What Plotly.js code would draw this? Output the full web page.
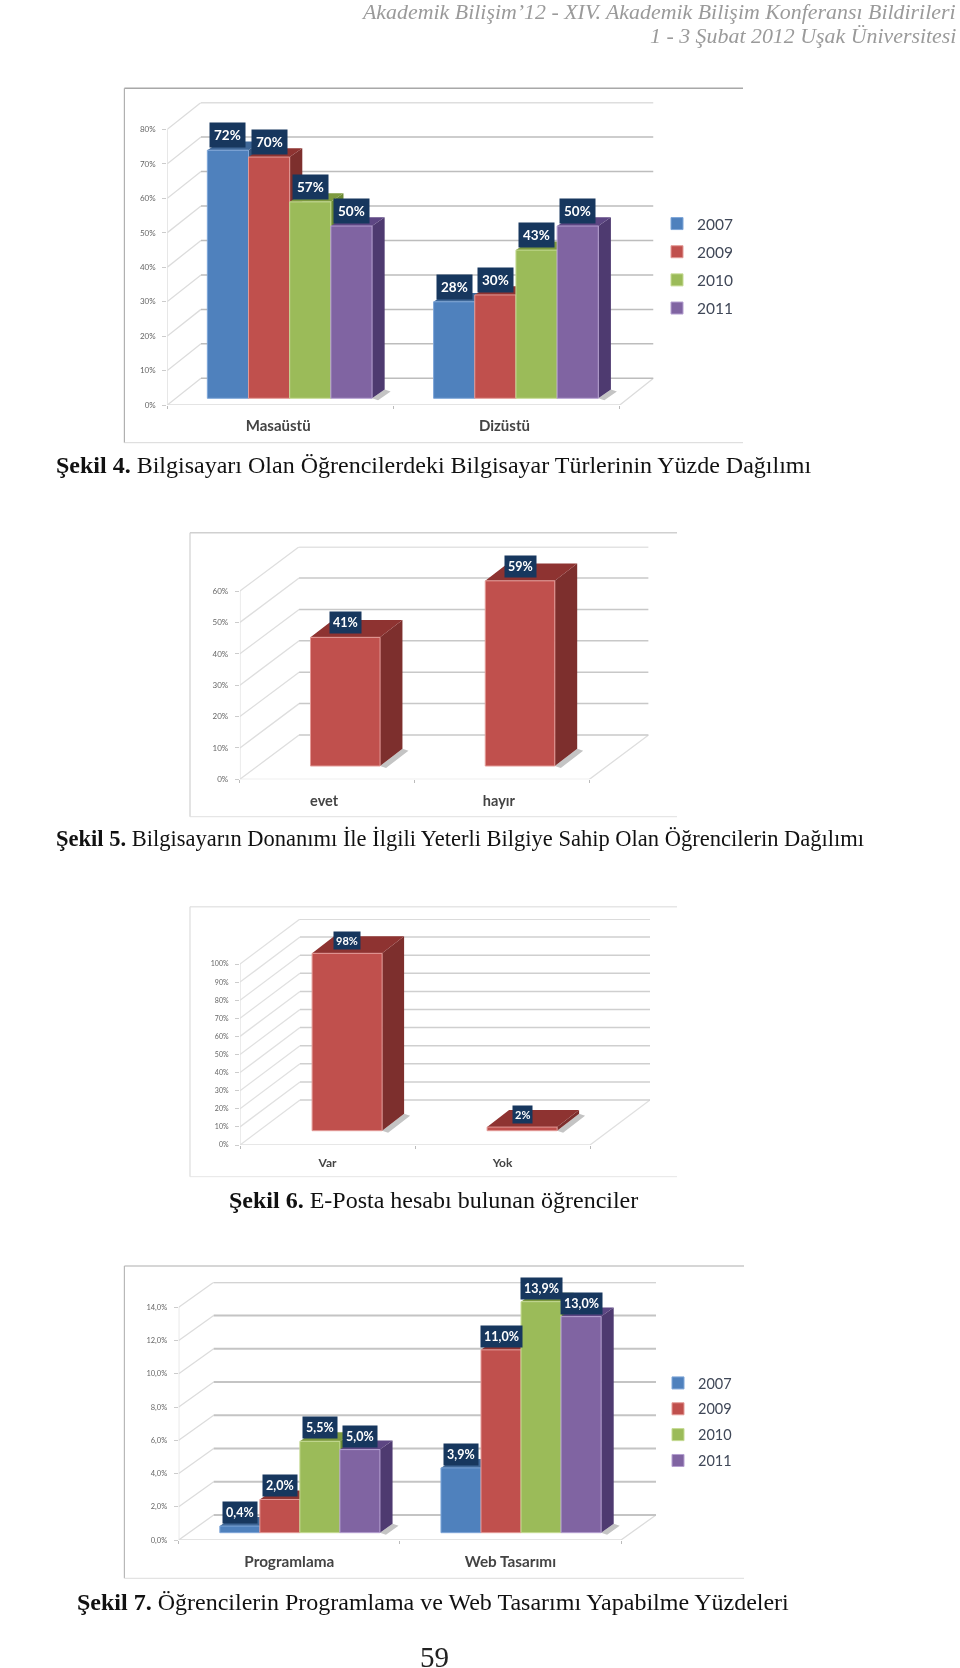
<!DOCTYPE html>
<html><head><meta charset="utf-8">
<script src="https://cdn.plot.ly/plotly-3.0.1.min.js"></script>
<style>html,body{margin:0;padding:0;background:#fff}#g{width:960px;height:1668px;filter:blur(0.45px)}</style>
</head><body><div id="g"></div>
<script>
// ---------- data ----------
const years = ['2007','2009','2010','2011'];

const fig4Categories = ['Masaüstü','Dizüstü'];
const fig4Values2007 = [72,28];
const fig4Values2009 = [70,30];
const fig4Values2010 = [57,43];
const fig4Values2011 = [50,50];
const fig4Ticks = [0,10,20,30,40,50,60,70,80];
const fig4TickLabels = ['0%','10%','20%','30%','40%','50%','60%','70%','80%'];
const fig4Labels = [['72%','28%'],['70%','30%'],['57%','43%'],['50%','50%']];

const fig5Categories = ['evet','hayır'];
const fig5Values = [41,59];
const fig5Ticks = [0,10,20,30,40,50,60];
const fig5TickLabels = ['0%','10%','20%','30%','40%','50%','60%'];
const fig5Labels = ['41%','59%'];

const fig6Categories = ['Var','Yok'];
const fig6Values = [98,2];
const fig6Ticks = [0,10,20,30,40,50,60,70,80,90,100];
const fig6TickLabels = ['0%','10%','20%','30%','40%','50%','60%','70%','80%','90%','100%'];
const fig6Labels = ['98%','2%'];

const fig7Categories = ['Programlama','Web Tasarımı'];
const fig7Values2007 = [0.4,3.9];
const fig7Values2009 = [2.0,11.0];
const fig7Values2010 = [5.5,13.9];
const fig7Values2011 = [5.0,13.0];
const fig7Ticks = [0,2,4,6,8,10,12,14];
const fig7TickLabels = ['0,0%','2,0%','4,0%','6,0%','8,0%','10,0%','12,0%','14,0%'];
const fig7Labels = [['0,4%','3,9%'],['2,0%','11,0%'],['5,5%','13,9%'],['5,0%','13,0%']];

const headerLines = ['Akademik Bilişim’12 - XIV. Akademik Bilişim Konferansı Bildirileri','1 - 3 Şubat 2012 Uşak Üniversitesi'];
const captions = [
 ['<b>Şekil 4.</b> Bilgisayarı Olan Öğrencilerdeki Bilgisayar Türlerinin Yüzde Dağılımı',433.7,465,24],
 ['<b>Şekil 5.</b> Bilgisayarın Donanımı İle İlgili Yeterli Bilgiye Sahip Olan Öğrencilerin Dağılımı',460.2,838.5,22.5],
 ['<b>Şekil 6.</b> E-Posta hesabı bulunan öğrenciler',433.7,1200,24],
 ['<b>Şekil 7.</b> Öğrencilerin Programlama ve Web Tasarımı Yapabilme Yüzdeleri',433,1601.5,24]
];
const pageNumber = '59';

// ---------- styling ----------
const W=960,H=1668;
const COL={b:['#4f81bd','#7ea6d8','#34567f','#3f6797'],
           r:['#c0504d','#e39a97','#7d2f2d','#8e3331'],
           g:['#9bbb59','#c5da93','#6c8a34','#7d9a3f'],
           p:['#8064a2','#b49fd0','#4e3a70','#5d4683']};
const FONT='Lato, "Open Sans", sans-serif', SERIF='"Liberation Serif", serif';
const NAVY='#17375e';
const px=x=>x/W, py=y=>1-y/H;

const charts=[
 {id:4,cats:fig4Categories,ticks:fig4Ticks,tl:fig4TickLabels,
  series:[[fig4Values2007,COL.b,years[0],fig4Labels[0]],[fig4Values2009,COL.r,years[1],fig4Labels[1]],
          [fig4Values2010,COL.g,years[2],fig4Labels[2]],[fig4Values2011,COL.p,years[3],fig4Labels[3]]],
  L:167.3,R:619.8,Y0:405,Ymax:129.3,dx:33.7,dy:26.7,barL:0.177,barW:0.182,base:6.7,sdx:12.6,sdy:8.7,
  frame:[124.4,88.3,743,442.7,'#a8a8a8','#b0b0b0','#d8d8d8'],grid:'#bdbdbd',wall:'#dcdcdc',gw:1.5,
  tfs:8,cfs:15,lfs:13.5,pad:4,lshift:2,legend:'legend',catShift:10,catOff:-0.01},
 {id:5,cats:fig5Categories,ticks:fig5Ticks,tl:fig5TickLabels,
  series:[[fig5Values,COL.r,'',fig5Labels]],
  L:239.9,R:589.4,Y0:779.3,Ymax:591,dx:59.2,dy:44.3,barL:0.404,barW:0.398,base:13.3,sdx:22.4,sdy:17.3,
  frame:[190,532.7,677,816.7,'#d0d0d0','#d0d0d0','#e0e0e0'],grid:'#c8c8c8',wall:'#dedede',gw:1.5,
  tfs:8,cfs:14.5,lfs:12.5,pad:3,lshift:3,catShift:11,catOff:-0.018},
 {id:6,cats:fig6Categories,ticks:fig6Ticks,tl:fig6TickLabels,
  series:[[fig6Values,COL.r,'',fig6Labels]],
  L:240,R:590,Y0:1145,Ymax:964,dx:60,dy:45,barL:0.412,barW:0.4,base:14.3,sdx:22,sdy:17,
  frame:[190,906.7,677,1176.7,'#e6e6e6','#dddddd','#e6e6e6'],grid:'#cfcfcf',wall:'#e0e0e0',gw:1.5,
  tfs:7,cfs:12,lfs:11,pad:2,lshift:3,catShift:9,catOff:0},
 {id:7,cats:fig7Categories,ticks:fig7Ticks,tl:fig7TickLabels,
  series:[[fig7Values2007,COL.b,years[0],fig7Labels[0]],[fig7Values2009,COL.r,years[1],fig7Labels[1]],
          [fig7Values2010,COL.g,years[2],fig7Labels[2]],[fig7Values2011,COL.p,years[3],fig7Labels[3]]],
  L:178.7,R:621,Y0:1540,Ymax:1307.3,dx:35,dy:25,barL:0.186,barW:0.181,base:7.3,sdx:12.6,sdy:9,
  frame:[124.4,1266,744,1578.3,'#c8c8c8','#b8b8b8','#dcdcdc'],grid:'#c4c4c4',wall:'#dcdcdc',gw:2,
  tfs:7.5,cfs:15.3,lfs:12.5,pad:3,lshift:2,legend:'legend2',catShift:11,catOff:0}
];

const traces=[],annotations=[],shapes=[];
const layout={width:W,height:H,margin:{l:0,r:0,t:0,b:0},paper_bgcolor:'#fff',plot_bgcolor:'rgba(0,0,0,0)',
  barmode:'overlay',showlegend:true,hovermode:false,font:{family:FONT}};

charts.forEach((c,k)=>{
  const a=2*k+1,b=2*k+2;                 // base axis pair, overlay axis pair (bars above the side faces)
  const xa=a===1?'x':'x'+a, ya=a===1?'y':'y'+a, xb='x'+b, yb='y'+b;
  const ln=s=>s==='x'?'xaxis':s==='y'?'yaxis':s.replace('x','xaxis').replace('y','yaxis');
  const unit=(c.R-c.L)/c.cats.length;
  const tMax=c.ticks[c.ticks.length-1];
  const scale=(c.Y0-c.Ymax)/tMax;
  const Dx=c.dx/unit,Dy=c.dy/scale,sx=c.sdx/unit,sy=c.sdy/scale,base=c.base/scale;
  const n=c.cats.length;
  const domX=[px(c.L),px(c.R+c.dx)],domY=[py(c.Y0),py(c.Ymax-c.dy)];
  const xr=[0,n+Dx],yr=[0,tMax+Dy];
  layout[ln(xa)]={domain:domX,range:xr,anchor:ya,showgrid:false,zeroline:false,showline:false,fixedrange:true,
    tickmode:'array',tickvals:c.cats.map((_,i)=>i).concat([n]),ticktext:c.cats.map(()=>'').concat(['']),ticks:'outside',ticklen:3,tickcolor:'#bbb'};
  layout[ln(ya)]={domain:domY,range:yr,anchor:xa,showgrid:false,zeroline:false,showline:false,fixedrange:true,
    tickmode:'array',tickvals:c.ticks,ticktext:c.tl,ticks:'outside',ticklen:4,tickcolor:'#ccc',ticklabelstandoff:5,
    tickfont:{family:FONT,size:c.tfs,color:'#666'}};
  layout[ln(xb)]={domain:domX,range:xr,overlaying:xa,anchor:yb,showgrid:false,zeroline:false,showline:false,fixedrange:true,
    tickmode:'array',tickvals:c.cats.map((_,i)=>i+0.5+c.catOff),ticktext:c.cats,ticks:'',ticklabelstandoff:c.catShift,
    tickfont:{family:FONT,size:c.cfs,color:'#444',weight:700}};
  layout[ln(yb)]={domain:domY,range:yr,overlaying:ya,anchor:xb,visible:false,fixedrange:true};

  // walls, floor, back gridlines
  const wx=[],wy=[],gx=[],gy=[];
  c.ticks.forEach(t=>{wx.push(0,Dx,null);wy.push(t,t+Dy,null);gx.push(Dx,n+Dx,null);gy.push(t+Dy,t+Dy,null);});
  wx.push(0,0,null);wy.push(0,tMax,null);
  wx.push(0,n,n+Dx);wy.push(0,0,Dy);
  traces.push({type:'scatter',mode:'lines',x:wx,y:wy,xaxis:xa,yaxis:ya,cliponaxis:false,showlegend:false,hoverinfo:'skip',line:{color:c.wall,width:1.3}});
  traces.push({type:'scatter',mode:'lines',x:gx,y:gy,xaxis:xa,yaxis:ya,cliponaxis:false,showlegend:false,hoverinfo:'skip',line:{color:c.grid,width:c.gw}});

  // floor shadow to the right of each group
  const m=c.series.length, shX=[], shY=[], sh=6/unit, sh2=2/scale;
  c.cats.forEach((_,j)=>{
    const r=j+c.barL+m*c.barW;
    shX.push(r,r+sh,r+sx+sh,r+sx,r,null);shY.push(base,base-sh2,base+sy-sh2,base+sy,base,null);
  });
  traces.push({type:'scatter',mode:'lines',x:shX,y:shY,xaxis:xa,yaxis:ya,fill:'toself',fillcolor:'#c4c4c4',line:{width:0,color:'#c4c4c4'},showlegend:false,hoverinfo:'skip'});

  // side and top faces, painted in series order under the overlay bars
  c.series.forEach((s,i)=>{
    const sideX=[],sideY=[],topX=[],topY=[];
    s[0].forEach((v,j)=>{
      const l=j+c.barL+i*c.barW,r=l+c.barW,t=v+base;
      sideX.push(r,r+sx,r+sx,r,r,null);sideY.push(base,base+sy,t+sy,t,base,null);
      topX.push(l,r,r+sx,l+sx,l,null);topY.push(t,t,t+sy,t+sy,t,null);
    });
    traces.push({type:'scatter',mode:'lines',x:sideX,y:sideY,xaxis:xa,yaxis:ya,fill:'toself',fillcolor:s[1][2],line:{width:0,color:s[1][2]},showlegend:false,hoverinfo:'skip'});
    traces.push({type:'scatter',mode:'lines',x:topX,y:topY,xaxis:xa,yaxis:ya,fill:'toself',fillcolor:s[1][3],line:{width:0,color:s[1][3]},showlegend:false,hoverinfo:'skip'});
  });
  // front faces
  c.series.forEach((s,i)=>{
    const tr={type:'bar',x:s[0].map((_,j)=>j),y:s[0],base:s[0].map(()=>base),xaxis:xb,yaxis:yb,
      width:c.barW,offset:c.barL+i*c.barW,name:s[2],
      marker:{color:s[1][0],line:{color:s[1][1],width:1}},showlegend:!!c.legend};
    if(c.legend){tr.legend=c.legend;tr.legendgroup='f'+c.id+s[2];}
    traces.push(tr);
    s[0].forEach((v,j)=>annotations.push({xref:xb,yref:yb,x:j+c.barL+(i+.5)*c.barW,y:v+base,xanchor:'center',yanchor:'bottom',
      yshift:c.lshift,showarrow:false,text:s[3][j],font:{family:FONT,size:c.lfs,color:'#fff',weight:700},bgcolor:NAVY,borderpad:c.pad}));
  });
  const [fl,ft,fr,fb,ct,cl,cb]=c.frame;
  const seg=(x0,y0,x1,y1,col,w)=>shapes.push({type:'line',xref:'paper',yref:'paper',x0:px(x0),y0:py(y0),x1:px(x1),y1:py(y1),line:{color:col,width:w},layer:'below'});
  seg(fl,ft,fr,ft,ct,1.5);seg(fl,ft,fl,fb,cl,1.2);seg(fl,fb,fr,fb,cb,1);
});

const leg=(x,y,size,gap)=>({x:px(x),y:py(y),xanchor:'left',yanchor:'top',bgcolor:'rgba(0,0,0,0)',borderwidth:0,traceorder:'grouped',tracegroupgap:gap,
   font:{family:FONT,size:size,color:'#404858'},itemclick:false,itemdoubleclick:false});
layout.legend=leg(657,207,15.5,5);
layout.legend2=leg(658,1367,14.5,4);

// page text
const txt=(t,x,y,size,col,anchor,italic)=>annotations.push({xref:'paper',yref:'paper',x:px(x),y:py(y),xanchor:anchor,yanchor:'middle',showarrow:false,text:t,
   font:{family:SERIF,size:size,color:col,style:italic?'italic':'normal'}});
txt(headerLines[0],958,12,21.9,'#9a9a9a','right',true);
txt(headerLines[1],958,36,21.9,'#9a9a9a','right',true);
captions.forEach(c=>txt(c[0],c[1],c[2],c[3],'#111','center',false));
txt(pageNumber,434.5,1657,29,'#222','center',false);

layout.annotations=annotations;layout.shapes=shapes;
Plotly.newPlot('g',traces,layout,{displayModeBar:false,staticPlot:true});
</script></body></html>
